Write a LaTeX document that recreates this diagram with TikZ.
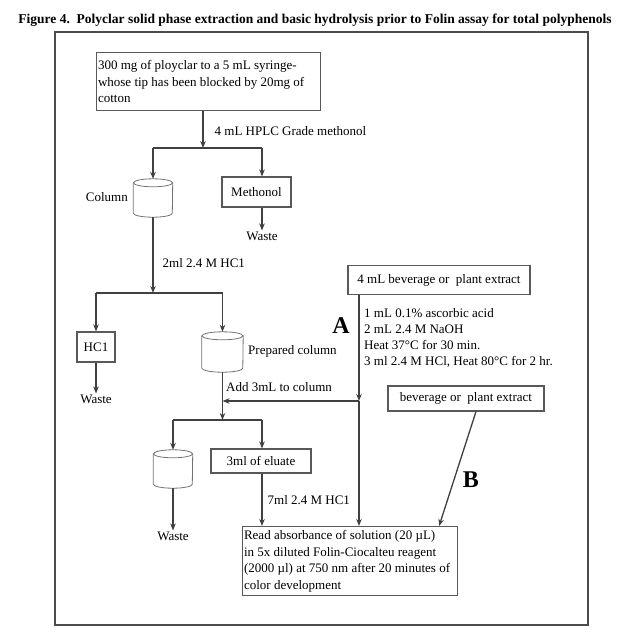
\documentclass[tikz,border=0pt]{standalone}
\usepackage{fontspec}
\setmainfont{Liberation Serif}
\usetikzlibrary{shapes,positioning,arrows.meta}
\tikzset{stepbox/.style={draw=black!65,line width=1.1pt,inner sep=2.5pt,font=\fontsize{13}{16.5}\selectfont},
  cyl/.style={rectangle,minimum width=39pt,minimum height=38pt,inner sep=0pt},
  cylline/.style={draw=black!55,line width=0.8pt},
  lbl/.style={font=\fontsize{13}{16}\selectfont,inner sep=1pt},
  flow/.style={draw=black!75,line width=1.3pt},
  letter/.style={font=\bfseries\fontsize{24}{24}\selectfont,inner sep=0pt}}
\newcommand{\drawcyl}[2]{%
  \draw[cylline] ([yshift=-4pt]#1.north west) -- ([yshift=4pt]#1.south west)
     arc[start angle=180,end angle=360,x radius=#2,y radius=4pt] -- ([yshift=-4pt]#1.north east);
  \draw[cylline] ([yshift=-4pt]#1.north) ellipse[x radius=#2,y radius=4pt];}

\begin{document}
\begin{tikzpicture}[x=1pt,y=-1pt,>={Stealth[length=7pt,width=5.5pt]}]
        \useasboundingbox (0,0) rectangle (631,638);
        \node[font=\bfseries\fontsize{13.5}{15}\selectfont] (title) at (315,20) {Figure 4.\ \ Polyclar solid phase extraction and basic hydrolysis prior to Folin assay for total polyphenols};
        \draw[black!70,line width=2pt] (55,32) rectangle (588,625);

        \node[stepbox,anchor=north west,text width=221pt,minimum height=58pt,align=flush left,inner sep=1.5pt] (syringe) at (96,52) {300 mg of ployclar to a 5 mL syringe-\\whose tip has been blocked by 20mg of\\cotton};
        \coordinate (split1) at (203,148);
        \coordinate (s1l) at (153,148);
        \coordinate (s1r) at (262,148);
        \node[cyl] (column) at (153,198) {};
        \node[lbl,anchor=east] (columnlbl) at (129,197) {Column};
        \node[stepbox,minimum width=69pt,minimum height=30pt] (methonol) at (256.5,192) {Methonol};
        \node[lbl] (waste1) at (262,236) {Waste};

        \coordinate (split2) at (153,293);
        \coordinate (s2l) at (96,293);
        \coordinate (s2r) at (222.5,293);
        \node[stepbox,minimum width=38pt,minimum height=30pt] (hcl) at (96,347) {HC1};
        \node[lbl] (waste2) at (96,399) {Waste};
        \node[cyl,minimum width=41pt,minimum height=40pt] (prep) at (222.5,352) {};
        \node[lbl,anchor=west] (preplbl) at (247,351) {Prepared column};

        \node[stepbox,minimum width=182pt,minimum height=29pt] (bev) at (439,280) {4 mL beverage or\ \ plant extract};
        \node[lbl,anchor=north west,align=left] (steps) at (363,307) {1 mL 0.1\% ascorbic acid\\2 mL 2.4 M NaOH\\Heat 37°C for 30 min.\\3 ml 2.4 M HCl, Heat 80°C for 2 hr.};
        \node[letter] (A) at (341,326) {A};
        \coordinate (join1) at (222.5,401);
        \coordinate (join2) at (359,401);

        \coordinate (split3) at (222.5,420);
        \coordinate (s3l) at (173,420);
        \coordinate (s3r) at (262,420);
        \node[cyl] (waste3col) at (173,469) {};
        \node[lbl] (waste3) at (173,536) {Waste};
        \node[stepbox,minimum width=100pt,minimum height=24pt] (eluate) at (261,461) {3ml of eluate};

        \node[stepbox,anchor=north west,text width=212pt,minimum height=69pt,align=flush left,inner sep=1.5pt] (read) at (242,526) {Read absorbance of solution (20 µL)\\in 5x diluted Folin-Ciocalteu reagent\\(2000 µl) at 750 nm after 20 minutes of\\color development};
        \node[stepbox,minimum width=156pt,minimum height=25pt] (bev2) at (466,398.5) {beverage or\ \ plant extract};
        \node[letter] (B) at (471,480) {B};

        % cylinders
        \drawcyl{column}{19.5pt}
        \drawcyl{prep}{20.5pt}
        \drawcyl{waste3col}{19.5pt}

        \draw[flow,->] (syringe.south -| split1) -- node[lbl,anchor=west,pos=0.55,xshift=10pt]{4 mL HPLC Grade methonol} (split1);
        \draw[flow] (s1l) -- (s1r);
        \draw[flow,->] (s1l) -- (column.north);
        \draw[flow,->] (s1r) -- (s1r |- methonol.north);
        \draw[flow,->] (methonol.south -| s1r) -- (waste1.north);
        \draw[flow,->] (column.south) -- node[lbl,anchor=west,pos=0.6,xshift=8pt]{2ml 2.4 M HC1} (split2);
        \draw[flow] (s2l) -- (s2r);
        \draw[flow,->] (s2l) -- (hcl);
        \draw[flow,->] (s2r) -- (prep.north);
        \draw[flow,->] (hcl) -- (waste2.north);
        \draw[flow] (prep.south) -- node[lbl,anchor=west,xshift=2pt]{Add 3mL to column} (join1);
        \draw[flow,->] (bev.south -| join2) -- (join2);
        \draw[flow,->] (join2) -- (join1);
        \draw[flow,->] (join1) -- (split3);
        \draw[flow,->] (join2) -- (join2 |- read.north);
        \draw[flow] (s3l) -- (s3r);
        \draw[flow,->] (s3l) -- (waste3col.north);
        \draw[flow,->] (waste3col.south) -- (waste3.north);
        \draw[flow,->] (s3r) -- (s3r |- eluate.north);
        \draw[flow,->] (eluate.south -| s3r) -- node[lbl,anchor=west,xshift=4pt]{7ml 2.4 M HC1} (s3r |- read.north);
        \draw[flow,->] ([xshift=10pt]bev2.south) -- ([xshift=-19pt]read.north east);
    \end{tikzpicture}
\end{document}
